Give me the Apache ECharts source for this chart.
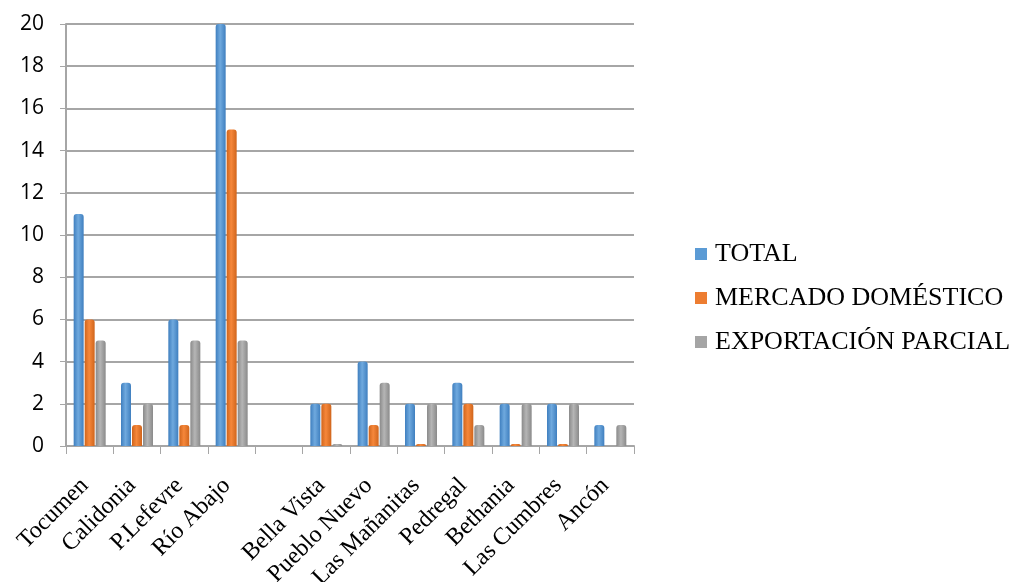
<!DOCTYPE html>
<html><head><meta charset="utf-8">
<script src="https://cdn.jsdelivr.net/npm/echarts@6/dist/echarts.min.js"></script>
<style>html,body{margin:0;padding:0;background:#fff}#c{width:1015px;height:582px}</style>
</head><body><div id="c"></div>
<script>
const categories = ['Tocumen','Calidonia','P.Lefevre','Río Abajo','','Bella Vista','Pueblo Nuevo','Las Mañanitas','Pedregal','Bethania','Las Cumbres','Ancón'];
const total      = [11, 3, 6, 20, null, 2, 4, 2, 3, 2, 2, 1];
const domestico  = [6, 1, 1, 15, null, 2, 1, 0, 2, 0, 0, null];
const exportacion= [5, 2, 5, 5, null, 0, 3, 2, 1, 2, 2, 1];
const seriesNames = ['TOTAL','MERCADO DOMÉSTICO','EXPORTACIÓN PARCIAL'];
const yTicks = [0,2,4,6,8,10,12,14,16,18,20];

function grad(c1,c2){return new echarts.graphic.LinearGradient(0,0,1,0,[{offset:0,color:c2},{offset:0.45,color:c1},{offset:1,color:c2}]);}
const chart = echarts.init(document.getElementById('c'));
const mk = (name,data,c1,c2)=>({
  name, type:'bar', data, barWidth:10, barGap:'10%', barMinHeight:2,
  itemStyle:{color:grad(c1,c2), borderRadius:[3,3,0,0]}
});
chart.setOption({
  animation:false,
  grid:{left:66,right:381,top:24,bottom:136,containLabel:false,outerBoundsMode:'none'},
  legend:{
    orient:'vertical', left:695, top:241, padding:0, itemGap:18, itemWidth:12, itemHeight:12,
    icon:'rect',
    textStyle:{fontFamily:'Liberation Serif',fontSize:26,color:'#000',padding:[0,0,0,3]},
    data:[{name:seriesNames[0],itemStyle:{color:'#5b9bd5'}},{name:seriesNames[1],itemStyle:{color:'#ed7d31'}},{name:seriesNames[2],itemStyle:{color:'#a5a5a5'}}]
  },
  xAxis:{
    type:'category', data:categories,
    axisLine:{lineStyle:{color:'#a6a6a6',width:2}},
    axisTick:{show:true,length:8,lineStyle:{color:'#a6a6a6',width:1}},
    axisLabel:{rotate:45,interval:0,margin:31,padding:[0,7,0,0],fontFamily:'Liberation Serif',fontSize:24,color:'#000'}
  },
  yAxis:{
    type:'value', min:yTicks[0], max:yTicks[yTicks.length-1], interval:2,
    axisLine:{show:true,lineStyle:{color:'#a6a6a6',width:2}},
    axisTick:{show:true,length:6,lineStyle:{color:'#a6a6a6'}},
    axisLabel:{margin:22,fontFamily:'Open Sans',fontSize:21,color:'#000'},
    splitLine:{lineStyle:{color:'#a6a6a6',width:2}}
  },
  series:[
    mk(seriesNames[0],total,'#6fa9de','#3f7fbf'),
    mk(seriesNames[1],domestico,'#f6873a','#d0651c'),
    mk(seriesNames[2],exportacion,'#b5b5b5','#8a8a8a')
  ]
});
</script></body></html>
